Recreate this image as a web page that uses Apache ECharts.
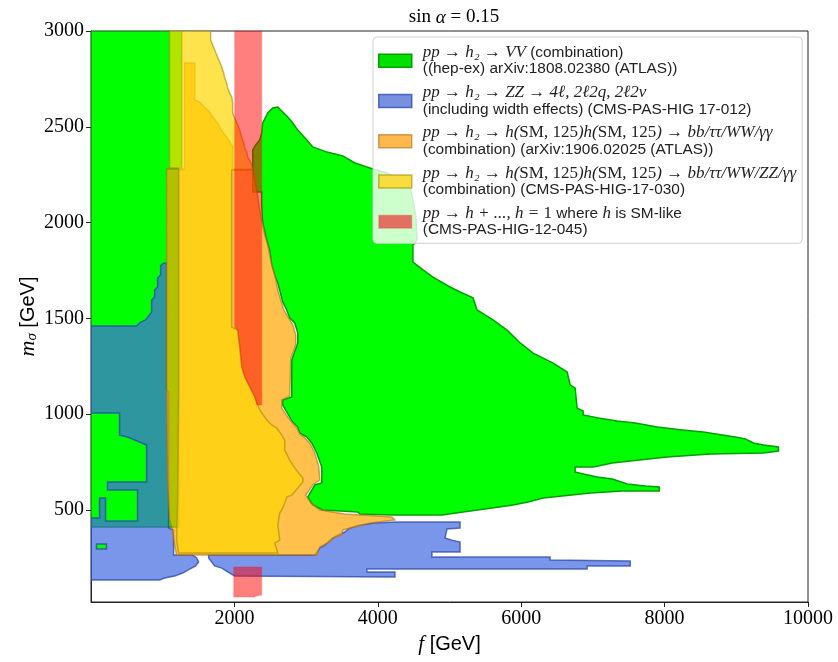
<!DOCTYPE html>
<html>
<head>
<meta charset="utf-8">
<title>sin alpha = 0.15</title>
<script src="https://cdn.jsdelivr.net/npm/echarts@6/dist/echarts.min.js"></script>
<style>
  html, body { margin: 0; padding: 0; background: #fff; }
  #chart { width: 838px; height: 662px; }
</style>
</head>
<body>
<div id="chart"></div>
<script>
// axis ticks
const fTicks = [2000, 4000, 6000, 8000, 10000]
const mTicks = [500, 1000, 1500, 2000, 2500, 3000]

// excluded regions, vertices as [f (GeV), m_sigma (GeV)]

// pp -> h2 -> VV (ATLAS)
const vvLeft = [[0, 3000], [1264, 3000], [1264, 2275], [1222, 2275], [1222, 411], [0, 411]]
const vvRight = [
  [2605, 2603], [2674, 2577], [2744, 2551], [2814, 2520], [2884, 2483], [3010, 2431], [3093, 2395],
  [3289, 2368], [3512, 2348], [3680, 2311], [3890, 2285], [4127, 2259], [4350, 2222], [4448, 2186],
  [4490, 2118], [4532, 2029], [4546, 1909], [4490, 1883], [4490, 1794], [4630, 1753], [4769, 1716],
  [5007, 1664], [5147, 1638], [5328, 1607], [5384, 1544], [5607, 1492], [5803, 1439], [5985, 1372],
  [6166, 1319], [6445, 1267], [6641, 1220], [6683, 1152], [6752, 1137], [6780, 1032], [6864, 1017],
  [6864, 996], [7074, 980], [7339, 965], [7591, 954], [7898, 933], [8247, 918], [8540, 907],
  [8806, 891], [8987, 881], [9127, 871], [9239, 850], [9378, 839], [9588, 829], [9588, 808],
  [9378, 798], [8638, 792], [8037, 777], [7521, 756], [7269, 745], [7004, 725], [6752, 725],
  [6752, 698], [6864, 688], [7060, 672], [7269, 662], [7479, 636], [7730, 625], [7926, 620],
  [7926, 599], [7409, 599], [6962, 589], [6571, 573], [6306, 563], [6096, 542], [5887, 526],
  [5593, 511], [5189, 490], [4895, 474], [4197, 474], [3750, 479], [3722, 490], [3233, 500],
  [3093, 526], [3024, 568], [3121, 631], [3219, 641], [3219, 725], [3149, 798], [3079, 850],
  [3010, 881], [2912, 902], [2884, 933], [2814, 959], [2772, 985], [2674, 1048], [2674, 1074],
  [2800, 1090], [2800, 1283], [2884, 1372], [2884, 1424], [2842, 1476], [2772, 1502], [2730, 1544],
  [2674, 1586], [2632, 1648], [2605, 1685], [2563, 1727], [2521, 1779], [2493, 1857], [2451, 1909],
  [2395, 2003], [2381, 2092], [2381, 2160], [2256, 2160], [2256, 2379], [2297, 2405], [2353, 2431],
  [2381, 2468], [2395, 2520], [2465, 2572], [2535, 2598]
]
const vvIsland = [[77, 323], [216, 323], [216, 297], [77, 297]]

// pp -> h2 -> ZZ (CMS)
const zzLeft = [
  [0, 1460], [635, 1460], [691, 1481], [761, 1492], [803, 1513], [845, 1533], [845, 1596],
  [887, 1612], [887, 1648], [929, 1664], [929, 1711], [971, 1727], [971, 1774], [1013, 1789],
  [1054, 1789], [1054, 1126], [1082, 1116], [1082, 406], [1152, 396], [1152, 265], [1418, 265],
  [1473, 250], [1501, 229], [1459, 208], [1376, 192], [1278, 171], [1166, 156], [1026, 145],
  [957, 135], [0, 135], [0, 458], [119, 458], [119, 563], [203, 563], [203, 443], [649, 443],
  [649, 604], [230, 604], [230, 646], [775, 646], [775, 839], [510, 881], [398, 891], [398, 1006],
  [0, 1006]
]
const zzRight = [
  [1641, 265], [3121, 265], [3191, 302], [3261, 317], [3331, 343], [3443, 370], [3540, 385],
  [3610, 406], [3750, 422], [3959, 432], [4267, 437], [5147, 437], [5147, 406], [4965, 401],
  [4937, 354], [5035, 343], [5147, 333], [5147, 281], [4755, 281], [4755, 255], [6403, 255],
  [6403, 239], [7521, 234], [7521, 208], [6920, 208], [6920, 192], [3848, 192], [3848, 177],
  [4239, 177], [4239, 150], [2004, 156], [1906, 177], [1823, 197], [1725, 208], [1683, 229],
  [1641, 250]
]

// pp -> h2 -> hh, ATLAS combination
const hhAtlas = [
  [1306, 2833], [1446, 2833], [1446, 2640], [1515, 2629], [1585, 2603], [1655, 2577], [1697, 2551],
  [1753, 2525], [1795, 2499], [1837, 2473], [1892, 2447], [1934, 2421], [1976, 2395], [1976, 2280],
  [2256, 2280], [2311, 2170], [2353, 2066], [2381, 2014], [2423, 1935], [2465, 1883], [2493, 1831],
  [2521, 1779], [2563, 1727], [2605, 1648], [2646, 1596], [2688, 1544], [2758, 1502], [2814, 1466],
  [2856, 1413], [2856, 1361], [2786, 1293], [2772, 1095], [2660, 1074], [2660, 1032], [2744, 985],
  [2800, 959], [2870, 928], [2912, 897], [2982, 876], [3051, 850], [3121, 798], [3177, 725],
  [3191, 657], [3093, 631], [2996, 578], [3065, 537], [3191, 500], [3540, 479], [4197, 464],
  [4239, 448], [3890, 432], [3680, 411], [3512, 396], [3499, 370], [3373, 354], [3331, 333],
  [3191, 307], [3149, 265], [1194, 265], [1166, 317], [1138, 396], [1096, 448], [1068, 657],
  [1054, 1074], [1054, 2280], [1306, 2280]
]

// pp -> h2 -> hh, CMS combination
const hhCms = [
  [1096, 3000], [1669, 3000], [1669, 2953], [1697, 2927], [1725, 2901], [1753, 2875], [1795, 2838],
  [1823, 2812], [1850, 2781], [1864, 2755], [1892, 2729], [1906, 2703], [1934, 2676], [1962, 2656],
  [1976, 2624], [1976, 2572], [2004, 2546], [2046, 2509], [2074, 2483], [2102, 2447], [2130, 2415],
  [2144, 2389], [2172, 2368], [2186, 2342], [2214, 2322], [2242, 2301], [2256, 2275], [1962, 2275],
  [1962, 1455], [2046, 1439], [2074, 1351], [2102, 1246], [2144, 1194], [2214, 1142], [2284, 1090],
  [2353, 1022], [2451, 970], [2521, 944], [2591, 928], [2660, 891], [2702, 865], [2702, 813],
  [2772, 761], [2814, 735], [2884, 698], [2954, 667], [2954, 646], [2884, 615], [2800, 578],
  [2730, 568], [2702, 537], [2660, 500], [2632, 485], [2605, 422], [2632, 343], [2563, 328],
  [2605, 276], [1222, 276], [1194, 343], [1208, 552], [1222, 1074], [1222, 2285], [1096, 2285]
]

// SM-like h (CMS-PAS-HIG-12-045)
const smUpper = [
  [2004, 3000], [2381, 3000], [2381, 1048], [2311, 1048], [2284, 1090], [2214, 1142], [2144, 1194],
  [2102, 1246], [2074, 1351], [2046, 1439], [2004, 1455]
]
const smLower = [[1990, 203], [2381, 203], [2381, 56], [2290, 50], [2290, 46], [1990, 46]]

const regions = [
  { name: 'VV', polys: [vvLeft, vvRight], fill: '#00ff00', stroke: '#00a000', icon: '#00e000' },
  { name: 'ZZ', polys: [zzLeft, zzRight], fill: 'rgba(65,105,225,0.7)', stroke: 'rgba(40,70,170,0.75)', icon: '#7890e0' },
  { name: 'hhATLAS', polys: [hhAtlas], fill: 'rgba(255,165,0,0.7)', stroke: 'rgba(170,110,20,0.6)', icon: '#ffb84d' },
  { name: 'hhCMS', polys: [hhCms], fill: 'rgba(255,215,0,0.7)', stroke: 'rgba(160,140,0,0.6)', icon: '#f8dc40' },
  { name: 'SM', polys: [smUpper, smLower], fill: 'rgba(255,0,0,0.5)', stroke: 'rgba(255,0,0,0.15)', icon: '#e07060' },
  { name: 'island', polys: [vvIsland], fill: '#00ff00', stroke: 'rgba(40,70,170,0.75)', icon: '#00ff00' }
]

// legend labels; M and T open a line (with a small left gap), m/r math, t text
const legendText = {
  VV: '{M|pp → h₂ → VV}{t| (combination)}\n{T|((hep-ex) arXiv:1808.02380 (ATLAS))}',
  ZZ: '{M|pp → h₂ → ZZ → 4ℓ, 2ℓ2q, 2ℓ2ν}\n{T|(including width effects) (CMS-PAS-HIG 17-012)}',
  hhATLAS: '{M|pp → h₂ → h(}{r|SM, 125}{m|)h(}{r|SM, 125}{m|) → bb/ττ/WW/γγ}\n{T|(combination) (arXiv:1906.02025 (ATLAS))}',
  hhCMS: '{M|pp → h₂ → h(}{r|SM, 125}{m|)h(}{r|SM, 125}{m|) → bb/ττ/WW/ZZ/γγ}\n{T|(combination) (CMS-PAS-HIG-17-030)}',
  SM: '{M|pp → h + ..., h = }{r|1}{t| where }{m|h}{t| is SM-like}\n{T|(CMS-PAS-HIG-12-045)}'
}

const chart = echarts.init(document.getElementById('chart'))

const series = regions.map((reg, k) => ({
  name: reg.name,
  type: 'custom',
  coordinateSystem: 'cartesian2d',
  clip: true,
  z: 2 + k,
  silent: true,
  itemStyle: { color: reg.icon },
  encode: { x: 0, y: 1 },
  data: reg.polys.map((p, i) => [p[0][0], p[0][1], i]),
  renderItem(params, api) {
    const poly = reg.polys[api.value(2)]
    return {
      type: 'polygon',
      shape: { points: poly.map(p => api.coord(p)) },
      style: { fill: reg.fill, stroke: reg.stroke, lineWidth: 1.5, lineJoin: 'miter' }
    }
  }
}))

const mathFont = { fontFamily: 'Liberation Serif', fontSize: 17, lineHeight: 16.5, color: '#222' }
const textFont = { fontFamily: 'Liberation Sans', fontSize: 15.4, lineHeight: 16.5, color: '#222' }
const legendRich = {
  M: Object.assign({}, mathFont, { fontStyle: 'italic', padding: [0, 0, 0, 6] }),
  m: Object.assign({}, mathFont, { fontStyle: 'italic' }),
  r: Object.assign({}, mathFont),
  T: Object.assign({}, textFont, { padding: [0, 0, 0, 6] }),
  t: Object.assign({}, textFont)
}

chart.setOption({
  animation: false,
  title: {
    text: '{r|sin }{i|α}{r| = 0.15}',
    left: 449,
    top: 3,
    textAlign: 'center',
    textStyle: {
      fontWeight: 'normal',
      rich: {
        r: { fontFamily: 'Liberation Serif', fontWeight: 'normal', fontSize: 19, color: '#000' },
        i: { fontFamily: 'Liberation Serif', fontWeight: 'normal', fontStyle: 'italic', fontSize: 19, color: '#000' }
      }
    }
  },
  grid: { left: 91, right: 30, top: 31, bottom: 60, show: true, borderColor: '#222', borderWidth: 1 },
  legend: {
    orient: 'vertical',
    left: 373,
    top: 37,
    padding: [7, 6, 5, 5],
    itemGap: 7,
    itemWidth: 33,
    itemHeight: 13,
    backgroundColor: 'rgba(255,255,255,0.8)',
    borderColor: '#d0d0d0',
    borderWidth: 1,
    borderRadius: 4,
    z: 20,
    data: regions.slice(0, 5).map(r => ({
      name: r.name,
      icon: 'rect',
      itemStyle: { color: r.icon, borderColor: r.stroke, borderWidth: 1.5 }
    })),
    formatter: name => legendText[name],
    textStyle: Object.assign({}, textFont, { rich: legendRich }),
    selectedMode: false
  },
  xAxis: {
    type: 'value',
    min: 0,
    max: 10000,
    name: '{i|f} [GeV]',
    nameLocation: 'middle',
    nameGap: 30,
    nameTextStyle: {
      fontFamily: 'Liberation Sans',
      fontSize: 20,
      color: '#000',
      rich: { i: { fontFamily: 'Liberation Serif', fontStyle: 'italic', fontSize: 21, color: '#000' } }
    },
    axisLine: { show: true, lineStyle: { color: '#222' } },
    axisTick: { show: true, customValues: fTicks, length: 5, lineStyle: { color: '#222' } },
    axisLabel: {
      customValues: fTicks,
      formatter: v => String(v),
      fontFamily: 'Liberation Serif',
      fontSize: 20,
      color: '#000',
      margin: 7
    },
    splitLine: { show: false }
  },
  yAxis: {
    type: 'value',
    min: 20,
    max: 3000,
    name: '{i|m}{s|σ} [GeV]',
    nameLocation: 'middle',
    nameRotate: 90,
    nameGap: 51,
    nameMoveOverlap: false,
    nameTextStyle: {
      fontFamily: 'Liberation Sans',
      fontSize: 20,
      lineHeight: 24,
      color: '#000',
      rich: {
        i: { fontFamily: 'Liberation Serif', fontStyle: 'italic', fontSize: 22, lineHeight: 24, color: '#000' },
        s: { fontFamily: 'Liberation Serif', fontStyle: 'italic', fontSize: 15, lineHeight: 14, verticalAlign: 'bottom', color: '#000' }
      }
    },
    axisLine: { show: true, lineStyle: { color: '#222' } },
    axisTick: { show: true, customValues: mTicks, length: 5, lineStyle: { color: '#222' } },
    axisLabel: {
      customValues: mTicks,
      formatter: v => String(v),
      fontFamily: 'Liberation Serif',
      fontSize: 20,
      color: '#000',
      margin: 7
    },
    splitLine: { show: false }
  },
  series: series
})
</script>
</body>
</html>
